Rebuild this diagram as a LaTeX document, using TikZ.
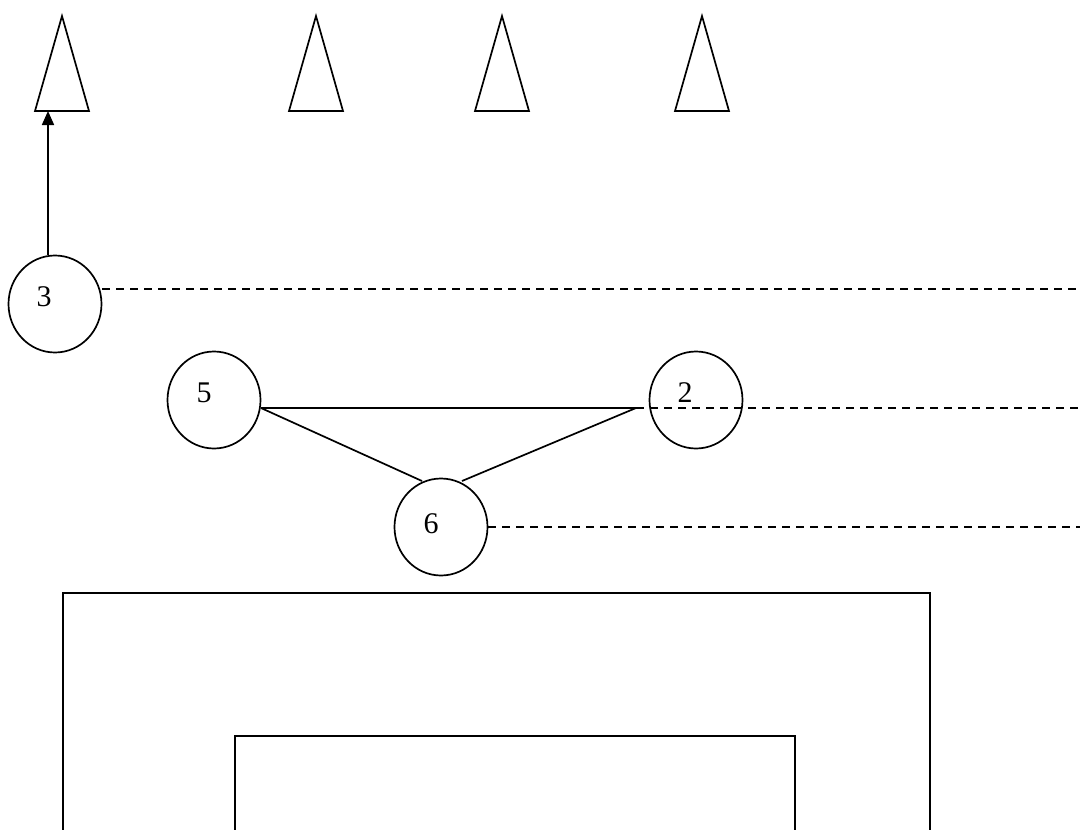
\documentclass[tikz,border=0pt]{standalone}
\usepackage{fontspec}
\setmainfont{Liberation Serif}
\usetikzlibrary{shapes.geometric,arrows.meta}
\begin{document}
\begin{tikzpicture}[x=1pt,y=-1pt,line width=1.7pt,
  player/.style={draw,ellipse,minimum width=93pt,minimum height=97pt,inner sep=0pt},
  lbl/.style={font=\fontsize{30}{34}\selectfont,inner sep=0pt},
  cone/.style={draw,line join=miter},
  run/.style={dash pattern=on 8pt off 6pt}]
\useasboundingbox (0,0) rectangle (1080,830);

% cones along the top
\foreach \cx/\nm in {62/c1,316/c2,502/c3,702/c4}{
  \draw[cone] (\cx-27,111) -- (\cx,16) -- (\cx+27,111) -- cycle;
  \coordinate (\nm) at (\cx-14,111);
}

% players
\node[player] (p3) at (55,304) {};
\node[lbl] at (44,297) {3};
\node[player] (p5) at (214,400) {};
\node[lbl] at (204,393) {5};
\node[player] (p2) at (696,400) {};
\node[lbl] at (685,393) {2};
\node[player] (p6) at (441,527) {};
\node[lbl] at (431,524) {6};

% passing and run lines
\coordinate (a5) at (261,408);
\coordinate (a2) at (636,408);
\coordinate (t6l) at (422,481);
\coordinate (t6r) at (462,481);
\coordinate (e3) at (1078,289);
\coordinate (e2) at (1080,408);
\coordinate (e6) at (1080,527);

\draw[-{Triangle[width=12pt,length=14pt]}] (p3.north -| c1) -- (c1);
\draw (a5) -- (a2);
\draw (a5) -- (t6l);
\draw (a2) -- (t6r);
\draw[run] (p3.east |- e3) -- (e3);
\draw[run] (a2) -- (e2);
\draw[run] (p6.east) -- (e6);

% penalty area and goal area
\draw (63,840) -- (63,593) -- (930,593) -- (930,840);
\draw (235,840) -- (235,736) -- (795,736) -- (795,840);
\end{tikzpicture}
\end{document}
